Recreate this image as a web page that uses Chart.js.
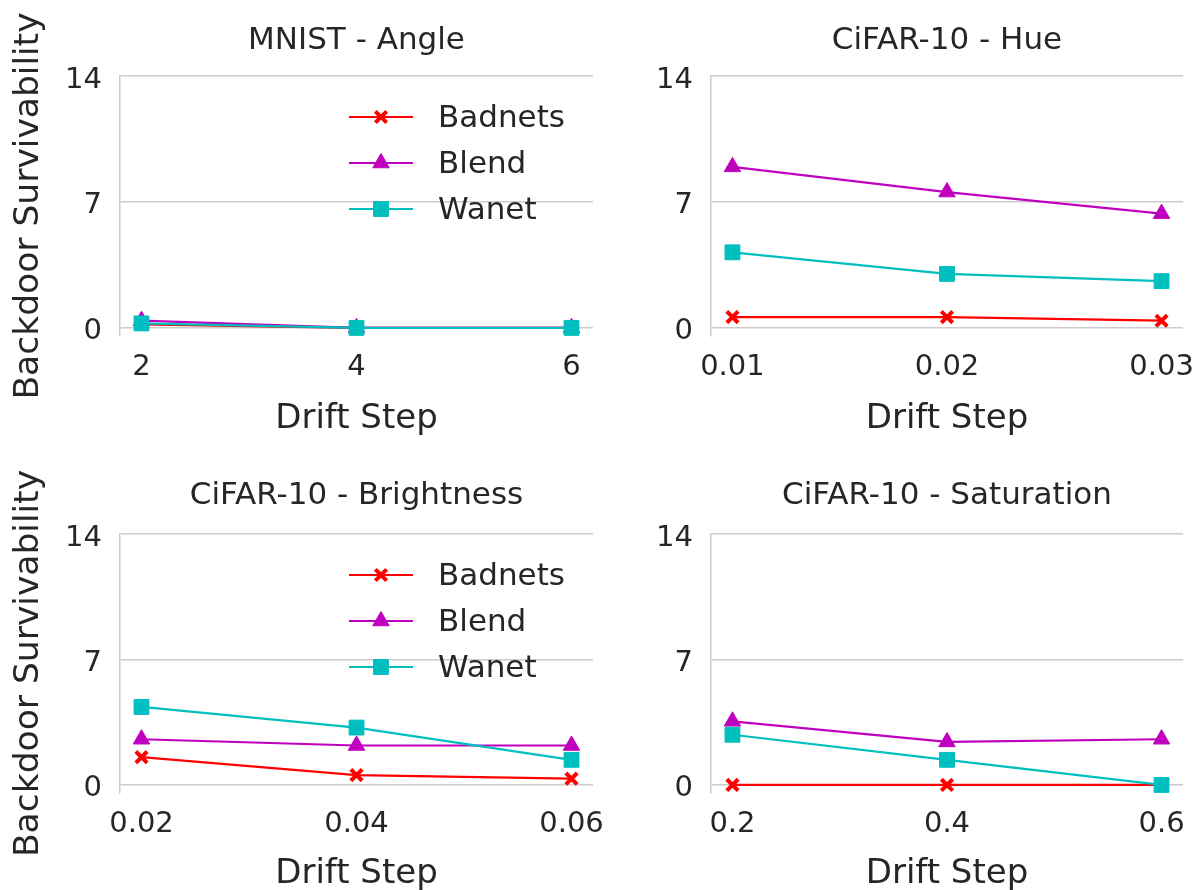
<!DOCTYPE html>
<html>
<head>
<meta charset="utf-8">
<script src="https://cdn.jsdelivr.net/npm/chart.js@4.4.0/dist/chart.umd.min.js"></script>
<style>
  body { margin: 0; background: #fff; }
  #wrap { position: relative; width: 1201px; height: 890px; }
  canvas { position: absolute; }
</style>
</head>
<body>
<div id="wrap">
  <canvas id="c_angle" width="640" height="445" style="left:0;top:0"></canvas>
  <canvas id="c_hue" width="601" height="445" style="left:600px;top:0"></canvas>
  <canvas id="c_bright" width="640" height="445" style="left:0;top:445px"></canvas>
  <canvas id="c_sat" width="601" height="445" style="left:600px;top:445px"></canvas>
</div>
<script>
// tick labels
var yTicks = [0, 7, 14];
var angleSteps = ["2", "4", "6"];
var hueSteps = ["0.01", "0.02", "0.03"];
var brightSteps = ["0.02", "0.04", "0.06"];
var satSteps = ["0.2", "0.4", "0.6"];

// MNIST - Angle
var angleBadnets = [0.2, 0, 0];
var angleBlend = [0.4, 0, 0];
var angleWanet = [0.25, 0, 0];
// CiFAR-10 - Hue
var hueBadnets = [0.6, 0.6, 0.4];
var hueBlend = [8.95, 7.55, 6.35];
var hueWanet = [4.2, 3.0, 2.6];
// CiFAR-10 - Brightness
var brightBadnets = [1.55, 0.55, 0.35];
var brightBlend = [2.55, 2.2, 2.2];
var brightWanet = [4.35, 3.2, 1.4];
// CiFAR-10 - Saturation
var satBadnets = [0, 0, 0];
var satBlend = [3.55, 2.4, 2.55];
var satWanet = [2.8, 1.4, 0];

var seriesNames = ["Badnets", "Blend", "Wanet"];
var seriesColors = ["#ff0000", "#bf00bf", "#00bfbf"];
var seriesMarkers = [
  { pointStyle: "crossRot", radius: 8, borderWidth: 4 },
  { pointStyle: "triangle", radius: 9.5, borderWidth: 1 },
  { pointStyle: "rect", radius: 10.5, borderWidth: 1 }
];

var FONT = "'DejaVu Sans', sans-serif";
var TEXT = "#262626";
var GRID = "#cccccc";

// title centred over the plot area, legend drawn inside it
var panelDeco = {
  id: "panelDeco",
  afterDraw: function (chart, args, opts) {
    var ctx = chart.ctx;
    var area = chart.chartArea;
    ctx.save();
    ctx.fillStyle = TEXT;
    ctx.font = "31px " + FONT;
    ctx.textAlign = "center";
    ctx.textBaseline = "middle";
    ctx.fillText(opts.title, (area.left + area.right) / 2, opts.titleY);
    if (opts.legend) {
      for (var i = 0; i < seriesNames.length; i++) {
        var y = area.top + 41 + i * 46;
        ctx.strokeStyle = seriesColors[i];
        ctx.fillStyle = seriesColors[i];
        ctx.lineWidth = 2;
        ctx.beginPath();
        ctx.moveTo(349, y);
        ctx.lineTo(413, y);
        ctx.stroke();
        var m = seriesMarkers[i];
        ctx.lineWidth = m.borderWidth;
        Chart.helpers.drawPoint(ctx, { pointStyle: m.pointStyle, radius: m.radius, rotation: 0, borderWidth: m.borderWidth }, 381, y);
        ctx.fillStyle = TEXT;
        ctx.font = "31px " + FONT;
        ctx.textBaseline = "middle";
        ctx.textAlign = "left";
        ctx.fillText(seriesNames[i], 438, y + 2);
      }
    }
    ctx.restore();
  }
};

function makePanel(id, title, steps, badnets, blend, wanet, cfg) {
  var values = [badnets, blend, wanet];
  var datasets = values.map(function (vals, i) {
    return {
      label: seriesNames[i],
      data: vals.map(function (v, k) { return { x: k, y: v }; }),
      borderColor: seriesColors[i],
      backgroundColor: seriesColors[i],
      borderWidth: 2.2,
      pointStyle: seriesMarkers[i].pointStyle,
      pointRadius: seriesMarkers[i].radius,
      pointBorderWidth: seriesMarkers[i].borderWidth,
      pointBackgroundColor: seriesColors[i],
      pointBorderColor: seriesColors[i],
      order: 3 - i,
      tension: 0
    };
  });
  return new Chart(document.getElementById(id), {
    type: "line",
    data: { datasets: datasets },
    plugins: [panelDeco],
    options: {
      responsive: false,
      animation: false,
      layout: { autoPadding: false, padding: { top: cfg.padTop, right: cfg.padRight } },
      plugins: {
        legend: { display: false },
        tooltip: { enabled: false },
        title: { display: false },
        panelDeco: { title: title, titleY: cfg.titleY, legend: cfg.legend }
      },
      scales: {
        x: {
          type: "linear",
          min: -0.1,
          max: 2.1,
          afterBuildTicks: function (axis) {
            axis.ticks = steps.map(function (s, k) { return { value: k }; });
          },
          afterFit: function (axis) {
            axis.height = cfg.xHeight;
            axis.paddingLeft = 0;
            axis.paddingRight = 0;
          },
          grid: { display: false, drawTicks: false },
          border: { display: false },
          ticks: {
            color: TEXT,
            font: { family: FONT, size: 29 },
            padding: 14,
            maxRotation: 0,
            callback: function (v) { return steps[v]; }
          },
          title: {
            display: true,
            text: "Drift Step",
            color: TEXT,
            font: { family: FONT, size: 34, lineHeight: 0.9 },
            padding: { top: 0, bottom: cfg.xTitleBottom }
          }
        },
        y: {
          min: -0.45,
          max: 14,
          afterBuildTicks: function (axis) {
            axis.ticks = yTicks.map(function (v) { return { value: v }; });
          },
          afterFit: function (axis) { axis.width = cfg.yWidth; },
          grid: { color: GRID, lineWidth: 1.5, drawTicks: false },
          border: { display: true, color: GRID, width: 1.5 },
          ticks: {
            color: TEXT,
            font: { family: FONT, size: 29 },
            padding: 18,
            labelOffset: 4
          },
          title: {
            display: cfg.yTitle,
            text: "Backdoor Survivability",
            color: TEXT,
            font: { family: FONT, size: 34.5 },
            padding: { top: 8, bottom: 0 }
          }
        }
      }
    }
  });
}

makePanel("c_angle", "MNIST - Angle", angleSteps, angleBadnets, angleBlend, angleWanet,
  { legend: true, yTitle: true, yWidth: 120, padTop: 76, padRight: 47, titleY: 41, xHeight: 109, xTitleBottom: 11 });
makePanel("c_hue", "CiFAR-10 - Hue", hueSteps, hueBadnets, hueBlend, hueWanet,
  { legend: false, yTitle: false, yWidth: 111, padTop: 76, padRight: 18, titleY: 41, xHeight: 109, xTitleBottom: 11 });
makePanel("c_bright", "CiFAR-10 - Brightness", brightSteps, brightBadnets, brightBlend, brightWanet,
  { legend: true, yTitle: true, yWidth: 120, padTop: 89, padRight: 47, titleY: 51, xHeight: 97, xTitleBottom: 1 });
makePanel("c_sat", "CiFAR-10 - Saturation", satSteps, satBadnets, satBlend, satWanet,
  { legend: false, yTitle: false, yWidth: 111, padTop: 89, padRight: 18, titleY: 51, xHeight: 97, xTitleBottom: 1 });
</script>
</body>
</html>
